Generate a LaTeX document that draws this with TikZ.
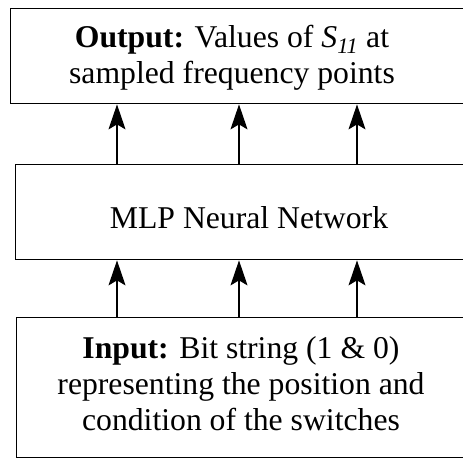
\documentclass[tikz,border=0pt]{standalone}
\usepackage{fontspec}
\setmainfont{Liberation Serif}
\usetikzlibrary{arrows.meta}

\begin{document}
\begin{tikzpicture}[x=1pt, y=-1pt,
  box/.style={draw, line width=1.4pt, rectangle, inner sep=0pt, anchor=north west},
  txt/.style={align=center, inner sep=0pt, font=\fontsize{31.7}{36.3}\selectfont},
  arr/.style={line width=1.1pt, -{Stealth[length=25pt, width=17pt, inset=5pt]}}]
\useasboundingbox (0,0) rectangle (463,461);
\clip (0,0) rectangle (463,461);
% Draw boxes
\node[box, minimum width=460pt, minimum height=95.5pt] (outbox) at (10,7.5) {};
\node[box, minimum width=460pt, minimum height=95pt] (mlpbox) at (15,164) {};
\node[box, minimum width=460pt, minimum height=140pt] (inbox) at (16,317) {};
% Texts
\node[txt] (outtxt) at (232,57.5) {\textbf{Output:} Values of \textit{S}\textsubscript{\textit{11}} at\\sampled frequency points};
\node[txt, anchor=base] (mlptxt) at (249,228) {MLP Neural Network};
\node[txt] (intxt) at (241,383.5) {\textbf{Input:} Bit string (1 \& 0)\\representing the position and\\condition of the switches};
% Draw arrows
\foreach \x [count=\i] in {117,239,357} {
  \coordinate (col\i) at (\x,0);
  \draw[arr] (mlpbox.north -| col\i) -- (outbox.south -| col\i);
  \draw[arr] (inbox.north -| col\i) -- (mlpbox.south -| col\i);
}
\end{tikzpicture}
\end{document}
